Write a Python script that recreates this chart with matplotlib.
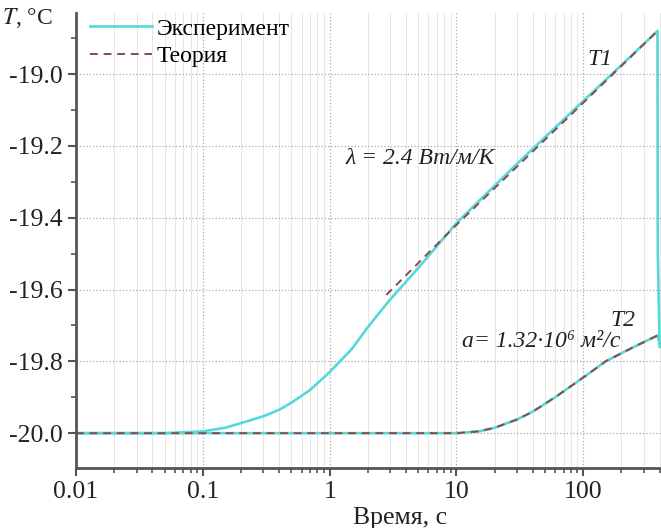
import matplotlib.pyplot as plt
from matplotlib.ticker import LogLocator, MultipleLocator, FormatStrFormatter, NullFormatter, FixedLocator

plt.rcParams['font.family'] = ['Liberation Serif', 'DejaVu Serif']
plt.rcParams['mathtext.fontset'] = 'stix'

# T1 experiment (time, temperature)
t1_exp_t = [0.01, 0.05, 0.1, 0.15, 0.2, 0.3, 0.4, 0.5, 0.7, 1.0, 1.5, 2.0, 2.5, 3.0, 5.0,
            10, 30, 100, 200, 385, 387, 400]
t1_exp_T = [-20.0, -20.0, -19.995, -19.985, -19.972, -19.953, -19.935, -19.915, -19.88,
            -19.83, -19.765, -19.705, -19.662, -19.628, -19.54, -19.415, -19.25, -19.075,
            -18.975, -18.88, -19.5, -19.76]

# T1 theory
t1_th_t = [2.8, 10, 100, 385]
t1_th_T = [-19.615, -19.42, -19.08, -18.88]

# T2 experiment
t2_exp_t = [0.01, 10, 15, 20, 30, 40, 60, 100, 150, 250, 385, 400]
t2_exp_T = [-20.0, -20.0, -19.995, -19.985, -19.962, -19.94, -19.9, -19.845, -19.80,
            -19.76, -19.728, -19.75]

# T2 theory
t2_th_t = [0.01, 10, 15, 20, 30, 40, 60, 100, 150, 250, 385]
t2_th_T = [-20.0, -20.0, -19.995, -19.985, -19.962, -19.94, -19.9, -19.845, -19.80,
           -19.76, -19.728]

yticks = [-20.0, -19.8, -19.6, -19.4, -19.2, -19.0]
xticks = [0.01, 0.1, 1, 10, 100]
xtick_labels = ['0.01', '0.1', '1', '10', '100']

cyan = '#55d8d8'
dash = '#8a4a4a'

fig = plt.figure(figsize=(6.61, 5.28), dpi=100)
ax = fig.add_axes([76 / 661, 60 / 528, 1 - 76 / 661, (468 - 13) / 528])

ax.plot(t1_exp_t, t1_exp_T, color=cyan, lw=1.9, label='Эксперимент')
ax.plot(t2_exp_t, t2_exp_T, color=cyan, lw=1.9)
ax.plot(t1_th_t, t1_th_T, color=dash, lw=1.4, ls=(0, (4, 3)), label='Теория')
ax.plot(t2_th_t, t2_th_T, color=dash, lw=1.4, ls=(0, (4, 3)))

ax.set_xscale('log')
ax.set_xlim(0.01, 410)
ax.set_ylim(-20.097, -18.83)

ax.xaxis.set_major_locator(FixedLocator(xticks))
ax.set_xticklabels(xtick_labels)
ax.xaxis.set_minor_locator(LogLocator(base=10, subs=range(2, 10), numticks=20))
ax.xaxis.set_minor_formatter(NullFormatter())
ax.set_yticks(yticks)
ax.yaxis.set_major_formatter(FormatStrFormatter('%.1f'))
ax.yaxis.set_minor_locator(MultipleLocator(0.1))

ax.tick_params(axis='both', which='major', labelsize=18.5, length=6, width=1.5,
               color='#555555', labelcolor='#222222', direction='out')
ax.tick_params(axis='both', which='minor', length=3.5, width=1.2, color='#555555',
               direction='out')

ax.grid(which='major', axis='both', color='#aaaaaa', ls=':', lw=0.9)
ax.grid(which='minor', axis='x', color='#e6e6e6', ls='-', lw=0.7)

for s in ['top', 'right']:
    ax.spines[s].set_visible(False)
for s in ['left', 'bottom']:
    ax.spines[s].set_color('#555555')
    ax.spines[s].set_linewidth(2)

ax.set_xlabel('Время, с', fontsize=18.5, color='#222222')
ax.xaxis.set_label_coords(0.554, -0.085)

fig.text(0.003, 0.955, r'$T$, °C', fontsize=17, color='#222222')

ax.legend(loc='upper left', frameon=False, fontsize=17, handlelength=2.6,
          handletextpad=0.2, borderaxespad=0.2, labelspacing=0.25,
          bbox_to_anchor=(0.0, 1.02))

ax.text(0.896, 0.897, 'T1', transform=ax.transAxes, fontsize=17, style='italic',
        ha='center', va='center', color='#222222')
ax.text(0.935, 0.325, 'T2', transform=ax.transAxes, fontsize=17, style='italic',
        ha='center', va='center', color='#222222')
ax.text(0.46, 0.681, 'λ = 2.4 Вт/м/К', transform=ax.transAxes, fontsize=17,
        style='italic', ha='left', va='center', color='#222222')
ax.text(0.66, 0.278, 'a= 1.32·10⁶ м²/с', transform=ax.transAxes, fontsize=17,
        style='italic', ha='left', va='center', color='#222222')

fig.savefig('out.png', dpi=100)
